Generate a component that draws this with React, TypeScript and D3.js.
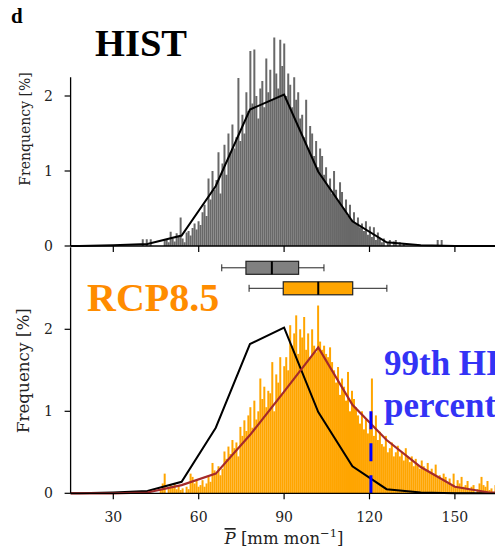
import React from "react";
import * as d3 from "d3";

const BIN_W = 0.7;
const BIN_START = 40;

// HIST histogram bar heights (%), bins of 0.7 starting at 40
const histBars = [
  0.09, 0, 0.09, 0, 0.09, 0, 0, 0, 0, 0,
  0, 0.08, 0.08, 0.05, 0.19, 0.1, 0.06, 0.17, 0.12, 0.38,
  0.1, 0.05, 0.18, 0.2, 0.14, 0.24, 0.3, 0.22, 0.33, 0.28,
  0.45, 0.55, 0.4, 0.9, 0.62, 1.0, 0.75, 0.88, 1.25, 0.7,
  1.1, 1.35, 0.95, 1.5, 1.25, 1.62, 1.3, 1.45, 2.24, 1.4,
  1.75, 1.5, 2.05, 1.8, 2.6, 1.9, 2.62, 2.0, 1.7, 2.1,
  2.2, 1.85, 2.5, 2.05, 2.35, 1.95, 2.78, 2.3, 2.1, 2.75,
  2.4, 2.7, 2.0, 2.3, 2.15, 1.85, 2.25, 1.95, 2.05, 1.7,
  1.75, 1.45, 1.95, 1.3, 1.6, 1.5, 1.2, 1.4, 1.05, 1.3,
  1.2, 0.95, 1.05, 0.8, 0.9, 0.7, 1.0, 0.75, 0.6, 0.85,
  0.72, 0.5, 0.62, 0.4, 0.55, 0.35, 0.45, 0.3, 0.38, 0.25,
  0.3, 0.2, 0.33, 0.15, 0.26, 0.12, 0.25, 0.08, 0.18, 0.1,
  0.05, 0.1, 0, 0.05, 0.08, 0, 0.06, 0.08, 0, 0.05,
  0, 0.04, 0, 0, 0, 0, 0, 0, 0, 0,
  0, 0, 0, 0, 0, 0, 0, 0, 0.08, 0,
  0.08, 0, 0, 0, 0, 0, 0, 0, 0, 0,
];

// RCP8.5 histogram bar heights (%), bins of 0.7 starting at 40
const rcpBars = [
  0, 0, 0, 0, 0, 0, 0, 0, 0, 0.05,
  0.12, 0.24, 0, 0.06, 0.1, 0.08, 0.12, 0.05, 0.1, 0.04,
  0.06, 0, 0.08, 0.05, 0.24, 0.2, 0.12, 0.16, 0.08, 0.1,
  0.16, 0.08, 0.12, 0.2, 0.14, 0.37, 0.28, 0.24, 0.33, 0.22,
  0.3, 0.51, 0.42, 0.57, 0.48, 0.65, 0.55, 0.62, 0.45, 0.81,
  0.7, 0.89, 0.76, 0.95, 1.05, 0.8, 1.13, 0.9, 1.0, 1.4,
  1.15, 1.3, 1.05, 1.25, 1.22, 1.6, 1.0, 1.45, 1.35, 1.66,
  1.2, 1.55, 1.66, 1.5, 2.05, 1.8, 1.95, 2.17, 1.7, 2.0,
  1.9, 2.15, 1.75, 1.95, 1.66, 2.0, 1.8, 1.72, 2.29, 1.85,
  1.75, 1.8, 1.7, 1.66, 1.78, 1.6, 1.5, 1.35, 1.54, 1.2,
  1.4, 1.3, 1.13, 1.48, 1.0, 1.25, 1.15, 1.05, 0.95, 0.85,
  1.0, 0.78, 0.9, 0.73, 0.85, 1.4, 0.7, 0.95, 0.65, 0.75,
  0.6, 0.57, 0.7, 0.5, 0.55, 0.62, 0.45, 0.5, 0.58, 0.45,
  0.5, 0.4, 0.55, 0.45, 0.38, 0.45, 0.33, 0.42, 0.35, 0.3,
  0.4, 0.33, 0.28, 0.37, 0.25, 0.3, 0.24, 0.35, 0.2, 0.22,
  0.16, 0.24, 0.2, 0.12, 0.18, 0.1, 0.24, 0.08, 0.16, 0.12,
  0.2, 0.08, 0.1, 0.15, 0.05, 0.08, 0.1, 0, 0.05, 0.12,
  0.2, 0.1, 0.08, 0.15, 0.04, 0.06, 0, 0.1, 0, 0,
];

// coarse distribution lines
const lineX = [6, 18, 30, 42, 54, 66, 78, 90, 102, 114, 126, 138, 150, 162, 174];
const histLine = [0, 0, 0.01, 0.027, 0.14, 0.8, 1.82, 2.02, 0.99, 0.33, 0.05, 0.01, 0, 0, 0];
const rcpLine = [0, 0, 0, 0.01, 0.1, 0.24, 0.71, 1.24, 1.78, 1.08, 0.65, 0.32, 0.08, 0.01, 0];

// box plots: [low whisker, q1, median, q3, high whisker]
const histBox = [68.1, 76.6, 85.7, 95.1, 104];
const rcpBox = [77.7, 89.7, 102, 114.1, 126.1];

const xTicks = [30, 60, 90, 120, 150];
const yTicks = [0, 1, 2];
const p99Hist = 120.5;

const W = 495;
const H = 552;

export default function App() {
  const x = d3.scaleLinear().domain([15, 165]).range([70.6, 497.6]);
  const yTop = d3.scaleLinear().domain([0, 2.25]).range([246, 77.25]);
  const yBot = d3.scaleLinear().domain([0, 3]).range([493.3, 247.3]);

  const lineTop = d3
    .line<number>()
    .x((_, i) => x(lineX[i]))
    .y((d) => yTop(d));
  const lineBot = d3
    .line<number>()
    .x((_, i) => x(lineX[i]))
    .y((d) => yBot(d));

  const serif = "DejaVu Serif";
  const times = "Liberation Serif";

  const bars = (data: number[], y: d3.ScaleLinear<number, number>, fill: string) =>
    data.map((v, i) => {
      if (v <= 0) return null;
      const s = BIN_START + i * BIN_W;
      const x0 = x(s);
      const x1 = x(s + BIN_W);
      return (
        <rect
          key={i}
          x={x0}
          y={y(v)}
          width={x1 - x0}
          height={y(0) - y(v)}
          fill={fill}
        />
      );
    });

  const box = (b: number[], cy: number, fill: string) => {
    const h = 13;
    return (
      <g>
        <line x1={x(b[0])} x2={x(b[1])} y1={cy} y2={cy} stroke="#222" strokeWidth={1} />
        <line x1={x(b[3])} x2={x(b[4])} y1={cy} y2={cy} stroke="#222" strokeWidth={1} />
        <line x1={x(b[0])} x2={x(b[0])} y1={cy - 3.5} y2={cy + 3.5} stroke="#222" strokeWidth={1} />
        <line x1={x(b[4])} x2={x(b[4])} y1={cy - 3.5} y2={cy + 3.5} stroke="#222" strokeWidth={1} />
        <rect
          x={x(b[1])}
          y={cy - h / 2}
          width={x(b[3]) - x(b[1])}
          height={h}
          fill={fill}
          stroke="#222"
          strokeWidth={1.2}
        />
        <line x1={x(b[2])} x2={x(b[2])} y1={cy - h / 2} y2={cy + h / 2} stroke="#000" strokeWidth={2} />
      </g>
    );
  };

  return (
    <svg
      width={W}
      height={H}
      style={{ position: "absolute", left: 0, top: 0, background: "#fff" }}
    >
      <defs>
        <clipPath id="plotclip">
          <rect x={70.6} y={0} width={W - 70.6} height={H} />
        </clipPath>
      </defs>

      {/* panel letter and titles */}
      <text x={11} y={23} fontFamily={times} fontWeight="bold" fontSize={21} fill="#000">
        d
      </text>
      <text x={95} y={56} fontFamily={times} fontWeight="bold" fontSize={38.5} fill="#000">
        HIST
      </text>

      {/* top panel */}
      <g clipPath="url(#plotclip)">{bars(histBars, yTop, "#686868")}</g>
      <path
        d={lineTop(histLine) || ""}
        fill="none"
        stroke="#000"
        strokeWidth={2}
        clipPath="url(#plotclip)"
      />
      <line x1={70.6} x2={W} y1={yTop(0)} y2={yTop(0)} stroke="#000" strokeWidth={1.3} />
      <line x1={70.6} x2={70.6} y1={77.25} y2={yTop(0)} stroke="#000" strokeWidth={1.3} />
      {xTicks.map((t) => (
        <line key={t} x1={x(t)} x2={x(t)} y1={yTop(0)} y2={yTop(0) + 6} stroke="#000" strokeWidth={1.2} />
      ))}
      {yTicks.map((t) => (
        <g key={t}>
          <line x1={64.6} x2={70.6} y1={yTop(t)} y2={yTop(t)} stroke="#000" strokeWidth={1.2} />
          <text
            x={53}
            y={yTop(t)}
            dy="0.35em"
            textAnchor="end"
            fontFamily={serif}
            fontSize={14}
            fill="#222"
          >
            {t}
          </text>
        </g>
      ))}
      <text
        transform={`translate(29.5,${129}) rotate(-90)`}
        textAnchor="middle"
        fontFamily={serif}
        fontSize={14}
        fill="#222"
      >
        Frenquency [%]
      </text>

      {/* bottom panel */}
      <g clipPath="url(#plotclip)">{bars(rcpBars, yBot, "#FFA500")}</g>
      <path
        d={lineBot(histLine) || ""}
        fill="none"
        stroke="#000"
        strokeWidth={2}
        clipPath="url(#plotclip)"
      />
      <path
        d={lineBot(rcpLine) || ""}
        fill="none"
        stroke="#A52A2A"
        strokeWidth={2.2}
        clipPath="url(#plotclip)"
      />
      <line
        x1={x(p99Hist)}
        x2={x(p99Hist)}
        y1={yBot(0)}
        y2={yBot(1.1)}
        stroke="#0000FF"
        strokeWidth={3}
        strokeDasharray="18,14"
      />
      {box(histBox, yBot(2.75), "#808080")}
      {box(rcpBox, yBot(2.5), "#FFA500")}
      <line x1={70.6} x2={W} y1={yBot(0)} y2={yBot(0)} stroke="#000" strokeWidth={1.3} />
      <line x1={70.6} x2={70.6} y1={yBot(3)} y2={yBot(0)} stroke="#000" strokeWidth={1.3} />
      {xTicks.map((t) => (
        <g key={t}>
          <line x1={x(t)} x2={x(t)} y1={yBot(0)} y2={yBot(0) + 6} stroke="#000" strokeWidth={1.2} />
          <text x={x(t)} y={522} textAnchor="middle" fontFamily={serif} fontSize={14} fill="#222">
            {t}
          </text>
        </g>
      ))}
      {yTicks.map((t) => (
        <g key={t}>
          <line x1={64.6} x2={70.6} y1={yBot(t)} y2={yBot(t)} stroke="#000" strokeWidth={1.2} />
          <text
            x={53}
            y={yBot(t)}
            dy="0.35em"
            textAnchor="end"
            fontFamily={serif}
            fontSize={14}
            fill="#222"
          >
            {t}
          </text>
        </g>
      ))}
      <text
        transform={`translate(28.5,${370.7}) rotate(-90)`}
        textAnchor="middle"
        fontFamily={serif}
        fontSize={16.8}
        fill="#222"
      >
        Frequency [%]
      </text>
      <text x={284} y={544} textAnchor="middle" fontFamily={serif} fontSize={16.5} fill="#222">
        <tspan fontStyle="italic" style={{ textDecoration: "overline" }}>P</tspan>
        <tspan> [mm mon</tspan>
        <tspan dy={-7} fontSize={11.5}>−1</tspan>
        <tspan dy={7}>]</tspan>
      </text>

      {/* annotations */}
      <text x={87} y={311} fontFamily={times} fontWeight="bold" fontSize={40} fill="#FF8C00">
        RCP8.5
      </text>
      <text x={384} y={375} fontFamily={times} fontWeight="bold" fontSize={35} fill="#3333F5">
        99th HIST
      </text>
      <text x={384} y={417} fontFamily={times} fontWeight="bold" fontSize={35} fill="#3333F5">
        percentile
      </text>
    </svg>
  );
}
